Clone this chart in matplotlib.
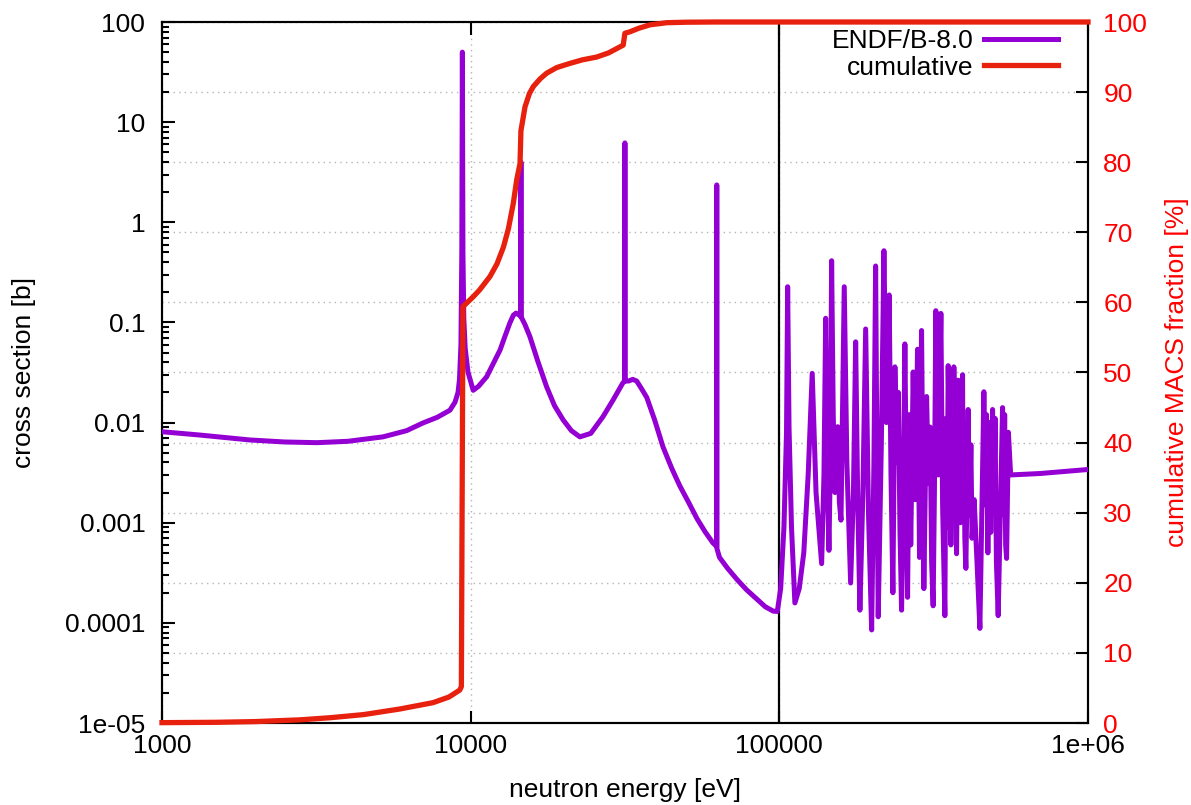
import matplotlib
matplotlib.use("Agg")
import matplotlib.pyplot as plt

plt.rcParams['font.family'] = ['Liberation Sans', 'DejaVu Sans']

PURPLE, RED = "#9400d3", "#e8200e"
GRID = "#b4b4b4"
FS = 19

# ENDF/B-8.0 capture cross section [b]
# below 100 keV: smooth part with four isolated resonances
low_energy = [1000, 1330, 1600, 1930, 2500, 3180, 4000, 5200, 6200, 7000, 7800, 8570, 8900,
              9100, 9200, 9300, 9360, 9400, 9440, 9500, 9600, 9800, 10190, 10600, 11270, 11800,
              12450, 12900, 13400, 13750, 14030, 14400, 14500, 14550, 14600, 14650, 15000,
              15560, 16500, 17620, 18700, 19950, 21200, 22580, 24500, 26860, 29000, 31100,
              31550, 31600, 31650, 32500, 33500, 34500, 35700, 37200, 39500, 42000, 44800,
              47600, 50800, 54100, 57500, 60900, 62600, 62700, 62800, 64000, 68000, 73000,
              78300, 85000, 90000]
low_sigma = [0.0081, 0.0075, 0.0071, 0.0067, 0.0064, 0.0063, 0.0065, 0.0072, 0.0083, 0.0099,
             0.0113, 0.0133, 0.016, 0.020, 0.027, 0.06, 0.5, 50, 0.5, 0.11, 0.055, 0.032, 0.021,
             0.023, 0.0287, 0.038, 0.053, 0.072, 0.099, 0.118, 0.124, 0.118, 0.115, 4.0, 0.113,
             0.11, 0.095, 0.072, 0.041, 0.0228, 0.0147, 0.0106, 0.0083, 0.0072, 0.0078, 0.0115,
             0.017, 0.0248, 0.026, 6.2, 0.026, 0.026, 0.027, 0.026, 0.022, 0.0178, 0.0105,
             0.0057, 0.0035, 0.00233, 0.0016, 0.0011, 0.00081, 0.00063, 0.00058, 2.36, 0.00055,
             0.00045, 0.00035, 0.00027, 0.000214, 0.00017, 0.000145]

# above ~95 keV: dense resonance region, then smooth tail (energy, sigma)
high_pairs = [
    (95500, 1.31e-4), (98500, 1.3e-4), (101000, 2.2e-4), (103500, 9e-4), (105500, 8e-3),
    (106400, 0.227), (107500, 9e-3), (109500, 9e-4), (112300, 1.58e-4), (116000, 2.2e-4),
    (120000, 5e-4), (124000, 3e-3), (127800, 0.031), (131500, 2e-3), (137100, 3.9e-4),
    (139500, 3e-3), (141300, 0.11), (143000, 3e-3), (144800, 5.3e-4), (146300, 4e-3),
    (147700, 0.413), (149500, 0.012), (151400, 2e-3), (154500, 9.1e-3), (156500, 1.6e-3),
    (158400, 1.06e-3), (162300, 0.227), (165500, 4e-3), (170200, 2.5e-4), (173800, 2e-3),
    (176700, 0.064), (179500, 1.6e-3), (182400, 1.34e-4), (186500, 2e-3), (190400, 0.086),
    (194500, 1.2e-3), (199100, 8.5e-5), (202500, 4e-3), (205100, 0.366), (207000, 5e-3),
    (209100, 1.15e-4), (214000, 6e-3), (218200, 0.52), (222300, 0.01), (224500, 0.02),
    (226900, 0.188), (230000, 3e-3), (233300, 2e-4), (236800, 0.036), (240500, 4e-3),
    (243000, 0.02), (246000, 8e-4), (248900, 1.34e-4), (252000, 1.5e-3), (255100, 0.061),
    (260300, 1.8e-4), (263500, 0.012), (266500, 6e-4), (271400, 0.032), (275700, 1.7e-3),
    (280400, 0.054), (284600, 4.5e-4), (288900, 0.083), (293900, 2.2e-4), (297000, 2e-3),
    (300000, 0.0182), (304000, 2.5e-3), (308000, 9e-3), (311500, 4e-4), (315000, 1.48e-4),
    (318000, 2e-3), (321400, 0.131), (327400, 3e-3), (333700, 0.123), (338000, 1.5e-3),
    (343800, 1.18e-4), (346500, 0.011), (349500, 9e-4), (352400, 0.037), (359500, 6e-4),
    (363000, 0.015), (365000, 2e-3), (367600, 0.036), (375100, 4.9e-4), (379600, 0.0265),
    (385900, 1e-3), (392300, 0.03), (394000, 1.2e-3), (396500, 8e-3), (399000, 7e-4),
    (402100, 3.5e-4), (409000, 0.0135), (413000, 1.2e-3), (417400, 6e-3), (421000, 7e-4),
    (427800, 1.7e-3), (437000, 4e-4), (446400, 8.8e-5), (453000, 1.2e-3), (459900, 0.0203),
    (466000, 1.5e-3), (469000, 0.012), (473800, 5e-4), (478000, 0.01), (484000, 8e-4),
    (490700, 0.0135), (495000, 1.5e-3), (500000, 0.011), (505000, 4e-4), (511700, 1.18e-4),
    (520000, 1.2e-3), (528700, 0.0141), (533000, 1.2e-3), (537000, 0.012), (541000, 6e-4),
    (544800, 4.4e-4), (552100, 8e-3), (561600, 3e-3), (700000, 3.1e-3), (1000000, 3.4e-3),
]
high_energy = [p[0] for p in high_pairs]
high_sigma = [p[1] for p in high_pairs]

# cumulative MACS fraction [%]
cum_energy = [1000, 1500, 2000, 2800, 3500, 4500, 5900, 7550, 8500, 9220, 9330, 9440, 10190,
              10700, 11550, 12170, 12770, 13250, 13740, 14100, 14450, 14550, 15000, 15500,
              15960, 16800, 17630, 19000, 20990, 23000, 25600, 28000, 31200, 31600, 32800,
              35000, 38100, 43200, 50000, 62700, 1000000]
cum_frac = [0.05, 0.1, 0.2, 0.45, 0.75, 1.2, 2.0, 2.9, 3.7, 4.7, 5.2, 59.4, 60.8, 61.8, 63.7,
            65.5, 67.9, 70.5, 74.1, 77.5, 79.8, 84.5, 87.9, 89.8, 90.8, 91.9, 92.7, 93.5, 94.1,
            94.6, 95.0, 95.6, 96.7, 98.4, 98.6, 99.1, 99.6, 99.9, 99.97, 100, 100]

y_ticks = [1e-5, 1e-4, 1e-3, 1e-2, 1e-1, 1, 10, 100]
y_labels = ["1e-05", "0.0001", "0.001", "0.01", "0.1", "1", "10", "100"]
x_ticks = [1e3, 1e4, 1e5, 1e6]
x_labels = ["1000", "10000", "100000", "1e+06"]
y2_ticks = list(range(0, 101, 10))

W, H = 1191, 805
fig = plt.figure(figsize=(W / 100, H / 100), dpi=100)
ax = fig.add_axes([162 / W, 1 - 723 / H, (1088 - 162) / W, (723 - 22) / H])
ax2 = ax.twinx()
ax.set_zorder(ax2.get_zorder() + 1)
ax.patch.set_visible(False)

ax.set_xscale("log"); ax.set_yscale("log")
ax2.set_ylim(0, 100)
ax2.set_yticks(y2_ticks)
ax2.set_yticklabels([str(t) for t in y2_ticks])
ax2.yaxis.grid(True, ls=(0, (1, 3)), color=GRID, lw=1)
ax.xaxis.grid(True, which="major", ls=(0, (1, 3)), color=GRID, lw=1)
ax.axvline(1e5, color="k", lw=1.6, zorder=1.8)

ax.plot(low_energy + high_energy, low_sigma + high_sigma, color=PURPLE, lw=3.6,
        label="ENDF/B-8.0", zorder=3)
ax.plot(cum_energy, cum_frac, color=RED, lw=3.8, label="cumulative", zorder=4,
        transform=ax2.transData, clip_on=False)
ax.set_xlim(1e3, 1e6); ax.set_ylim(1e-5, 100)

ax.set_xticks(x_ticks); ax.set_xticklabels(x_labels)
ax.set_yticks(y_ticks); ax.set_yticklabels(y_labels)
ax.tick_params(which="both", direction="in", top=True, right=False, width=1.5, labelsize=FS)
ax.tick_params(which="major", length=9)
ax.tick_params(which="minor", length=5)
ax.tick_params(axis="x", pad=8)
ax.tick_params(axis="y", pad=12)
ax2.tick_params(direction="in", length=9, width=1.5, labelsize=FS, labelcolor="red", pad=11)
ax2.minorticks_off()
for a in (ax, ax2):
    for s in a.spines.values():
        s.set_linewidth(1.5)

ax.set_xlabel("neutron energy [eV]", fontsize=FS, labelpad=14)
ax.set_ylabel("cross section [b]", fontsize=FS, labelpad=21)
ax2.set_ylabel("cumulative MACS fraction [%]", fontsize=FS, color="red", labelpad=13)

ax.legend(loc="upper right", bbox_to_anchor=((1058 - 162) / 926, (723 - 29) / 701),
          frameon=False, markerfirst=False, fontsize=FS, handlelength=2.8,
          handletextpad=0.4, labelspacing=0.1, borderaxespad=0, borderpad=0)

fig.savefig("out.png", dpi=100)
